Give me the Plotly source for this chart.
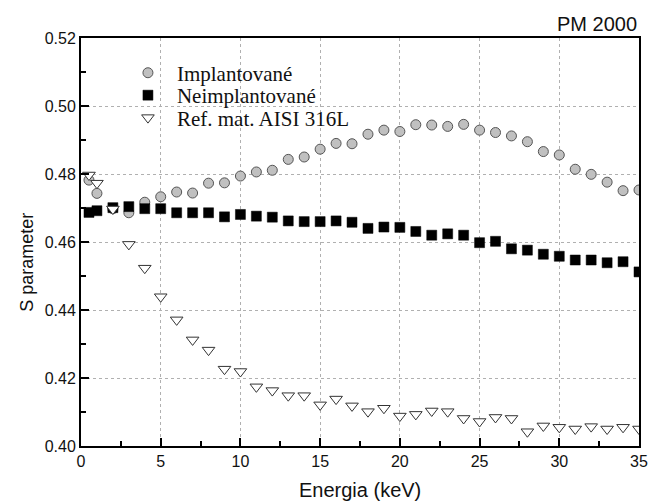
import plotly.graph_objects as go

energy = [0.5, 1, 2, 3, 4, 5, 6, 7, 8, 9, 10, 11, 12, 13, 14, 15, 16, 17, 18, 19,
          20, 21, 22, 23, 24, 25, 26, 27, 28, 29, 30, 31, 32, 33, 34, 35]

implantovane = [0.4782, 0.4743, 0.4698, 0.4686, 0.4717, 0.4733, 0.4747, 0.4744, 0.4773,
                0.4774, 0.4794, 0.4806, 0.4811, 0.4843, 0.4850, 0.4873, 0.4890, 0.4889,
                0.4917, 0.4929, 0.4925, 0.4945, 0.4944, 0.4940, 0.4946, 0.4929, 0.4922,
                0.4912, 0.4895, 0.4866, 0.4856, 0.4814, 0.4799, 0.4776, 0.4751, 0.4753]

neimplantovane = [0.4687, 0.4692, 0.4701, 0.4704, 0.4698, 0.4698, 0.4686, 0.4686, 0.4686,
                  0.4674, 0.4681, 0.4676, 0.4673, 0.4662, 0.4660, 0.4660, 0.4662, 0.4658,
                  0.4640, 0.4644, 0.4643, 0.4631, 0.4620, 0.4624, 0.4620, 0.4598, 0.4602,
                  0.4580, 0.4576, 0.4564, 0.4558, 0.4547, 0.4547, 0.4539, 0.4542, 0.4512]

ref_aisi = [0.4797, 0.4773, 0.4697, 0.4593, 0.4523, 0.4439, 0.4371, 0.4312, 0.4282,
            0.4226, 0.4219, 0.4174, 0.4163, 0.4148, 0.4148, 0.4121, 0.4138, 0.4118,
            0.4101, 0.4111, 0.4088, 0.4093, 0.4103, 0.4101, 0.4081, 0.4072, 0.4084,
            0.4081, 0.4042, 0.4059, 0.4055, 0.4050, 0.4057, 0.4050, 0.4055, 0.4050]

series_names = ["Implantované", "Neimplantované", "Ref. mat. AISI 316L"]
x_ticks = [0, 5, 10, 15, 20, 25, 30, 35]
y_ticks = [0.40, 0.42, 0.44, 0.46, 0.48, 0.50, 0.52]

fig = go.Figure()
fig.add_trace(go.Scatter(
    x=energy, y=implantovane, mode="markers", name=series_names[0], legend="legend",
    marker=dict(symbol="circle", size=10, color="#c0c0c0",
                line=dict(color="#555555", width=1))))
fig.add_trace(go.Scatter(
    x=energy, y=neimplantovane, mode="markers", name=series_names[1], legend="legend2",
    marker=dict(symbol="square", size=10, color="#000000",
                line=dict(color="#000000", width=0.5))))
fig.add_trace(go.Scatter(
    x=energy, y=ref_aisi, mode="markers", name=series_names[2], legend="legend3",
    marker=dict(symbol="triangle-down", size=11, color="#ffffff",
                line=dict(color="#333333", width=1))))

axis_font = dict(family="Liberation Sans, Arial", size=16, color="#111111")

fig.update_xaxes(
    range=[0, 35], tickvals=x_ticks, ticktext=[str(v) for v in x_ticks],
    ticks="inside", ticklen=8, tickwidth=1.5, tickcolor="black",
    minor=dict(dtick=2.5, tick0=0, ticks="inside", ticklen=5, tickwidth=1.5,
               tickcolor="black", showgrid=False),
    showline=True, linecolor="black", linewidth=2, mirror=True,
    showgrid=True, gridcolor="#b0b0b0", gridwidth=1, griddash="dot",
    zeroline=False, tickfont=axis_font, automargin=False,
)
fig.update_yaxes(
    range=[0.40, 0.52], tickvals=y_ticks, ticktext=[f"{v:.2f}" for v in y_ticks],
    ticks="inside", ticklen=8, tickwidth=1.5, tickcolor="black",
    minor=dict(dtick=0.01, tick0=0.40, ticks="inside", ticklen=5, tickwidth=1.5,
               tickcolor="black", showgrid=False),
    showline=True, linecolor="black", linewidth=2, mirror=True,
    showgrid=True, gridcolor="#b0b0b0", gridwidth=1, griddash="dot",
    zeroline=False, tickfont=axis_font, automargin=False,
)

fig.add_annotation(
    text="S parameter", textangle=-90, xref="paper", yref="paper",
    x=-0.097, y=0.451, xanchor="center", yanchor="middle", showarrow=False,
    font=dict(family="Liberation Sans, Arial", size=18, color="#111111"))

fig.add_annotation(
    text="Energia (keV)", xref="paper", yref="paper",
    x=0.5, y=-0.108, xanchor="center", yanchor="middle", showarrow=False,
    font=dict(family="Liberation Sans, Arial", size=20, color="#111111"))

fig.add_annotation(
    text="PM 2000", xref="paper", yref="paper", x=1.0, y=1.0,
    xanchor="right", yanchor="bottom", yshift=1, showarrow=False,
    font=dict(family="Liberation Sans, Arial", size=20, color="#111111"))

leg_common = dict(xanchor="left", yanchor="middle",
                  bgcolor="rgba(0,0,0,0)", borderwidth=0, itemwidth=48,
                  font=dict(family="Liberation Serif, Times New Roman", size=21,
                            color="#111111"))

fig.update_layout(
    width=651, height=504,
    margin=dict(l=81, r=12, t=38, b=58, autoexpand=False),
    paper_bgcolor="white", plot_bgcolor="white",
    showlegend=True,
    legend=dict(x=0.068, y=0.914, **leg_common),
    legend2=dict(x=0.068, y=0.859, **leg_common),
    legend3=dict(x=0.068, y=0.804, **leg_common),
)

fig.write_html("out.html")
